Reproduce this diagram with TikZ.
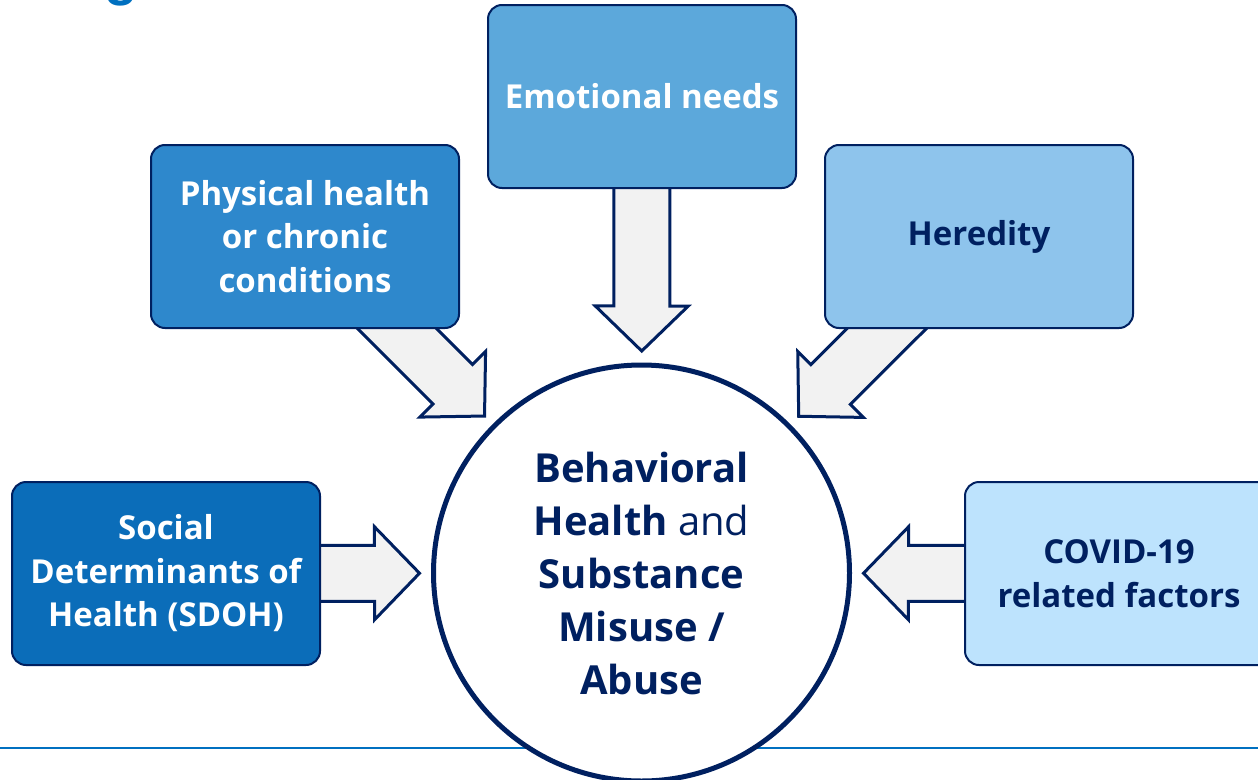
\documentclass[tikz,border=0pt]{standalone}
\usepackage{fontspec}
\setmainfont{Open Sans}
\newfontfamily\titlefont{Liberation Sans}
\usetikzlibrary{calc}
\definecolor{navy}{HTML}{002060}
\definecolor{titleblue}{HTML}{0070C0}
\definecolor{arrowgray}{HTML}{F2F2F2}
\definecolor{cSDOH}{HTML}{0B6DB9}
\definecolor{cPhys}{HTML}{2E88CC}
\definecolor{cEmo}{HTML}{5CA8DB}
\definecolor{cHer}{HTML}{8EC4EC}
\definecolor{cCov}{HTML}{BDE3FD}
\pgfdeclarelayer{back}
\pgfsetlayers{back,main}
\newcommand\blockarr[2]{%
  \coordinate (T) at ($(#2.center)!222pt!(#1.center)$);
  \coordinate (H) at ($(T)!45pt!(#1.center)$);
  \draw[barrow] ($(#1.center)!28pt!90:(T)$) -- ($(H)!28pt!90:(T)$) -- ($(H)!46.5pt!90:(T)$) -- (T)
    -- ($(H)!46.5pt!-90:(T)$) -- ($(H)!28pt!-90:(T)$) -- ($(#1.center)!28pt!-90:(T)$) -- cycle;}
\begin{document}
\begin{tikzpicture}[x=1pt,y=-1pt,
  box/.style={draw=navy,line width=2pt,rounded corners=14pt,minimum width=308pt,minimum height=183pt,
    align=center,inner sep=0pt,font=\fontsize{33}{43.5}\selectfont\bfseries},
  barrow/.style={draw=navy,line width=3pt,fill=arrowgray,line join=miter}]
\useasboundingbox (0,0) rectangle (1258,779);
\node[anchor=base,text=titleblue,inner sep=0pt,font=\titlefont\bfseries\fontsize{55}{60}\selectfont] (g) at (121,-5.5) {g};
% central circle
\node[circle,draw=navy,line width=5pt,fill=white,minimum size=416pt,inner sep=0pt,align=center,
  text=navy,font=\fontsize{40}{53}\selectfont] (bh) at (641.5,573)
  {\textbf{Behavioral}\\\textbf{Health} and\\\textbf{Substance}\\\textbf{Misuse /}\\\textbf{Abuse}};
% boxes
\node[box,fill=cEmo,text=white] (emo) at (642,96.5) {Emotional needs};
\node[box,fill=cPhys,text=white] (phys) at (305,236.5) {Physical health\\or chronic\\conditions};
\node[box,fill=cHer,text=navy] (her) at (979,236.5) {Heredity};
\node[box,fill=cSDOH,text=white] (sdoh) at (166,573.5) {Social\\Determinants of\\Health (SDOH)};
\node[box,fill=cCov,text=navy] (cov) at (1119,573.5) {COVID-19\\related factors};
\begin{pgfonlayer}{back}
  \draw[titleblue,line width=2pt] (0,748) -- (1258,748);
  \blockarr{emo}{bh}
  \blockarr{phys}{bh}
  \blockarr{her}{bh}
  \blockarr{sdoh}{bh}
  \blockarr{cov}{bh}
\end{pgfonlayer}
\end{tikzpicture}
\end{document}
